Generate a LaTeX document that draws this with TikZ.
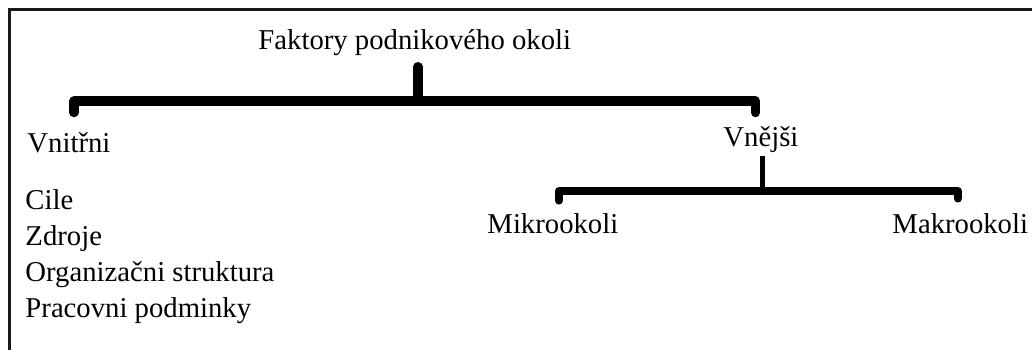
\documentclass[tikz,border=0pt]{standalone}
\usepackage{fontspec}
\setmainfont{Liberation Serif}
\usetikzlibrary{positioning, calc}
\tikzset{
	txt/.style={inner sep=0pt, anchor=base west},
	frame/.style={line width=0.9pt, black!90},
	fork/.style={line width=3.9pt, line cap=round, line join=round},
	subfork/.style={line width=3.3pt, line cap=round, line join=round},
	stem/.style={line width=2.1pt},
}

\begin{document}
\begin{tikzpicture}[x=0.418pt, y=-0.418pt]
			\fontsize{12}{15}\selectfont
			\clip (0,0) rectangle (1032,349);
			\draw[frame] (9.5,360) -- (9.5,9.5) -- (1040,9.5);

			\node[txt] (title) at (258,49) {Faktory podnikového okoli};
			\node[txt] (inner) at (27,152) {Vnitřni};
			\node[txt] (outer) at (723,146) {Vnějši};

			\node[txt] (goals) at (25,209) {Cile};
			\node[txt] (sources) at (25,245) {Zdroje};
			\node[txt] (structure) at (25,281) {Organizačni struktura};
			\node[txt] (conditions) at (25,317) {Pracovni podminky};

			\node[txt] (micro) at (487,233) {Mikrookoli};
			\node[txt] (macro) at (892,233) {Makrookoli};

			% main fork
			\coordinate (mainbar) at (418,101);
			\draw[fork] ($(title.south -| mainbar)+(0,11)$) -- (mainbar);
			\draw[fork] ($(inner.north)+(5,-19)$) |- (mainbar) -| ($(outer.north)+(-5.5,-13)$);

			% fork of the outer factors
			\coordinate (subbar) at (762,191);
			\draw[stem] ($(outer.south -| subbar)+(0,3)$) -- (subbar);
			\draw[subfork] ($(micro.north)+(6,-12)$) |- (subbar) -| ($(macro.north)+(-2.5,-14)$);
		\end{tikzpicture}
\end{document}
